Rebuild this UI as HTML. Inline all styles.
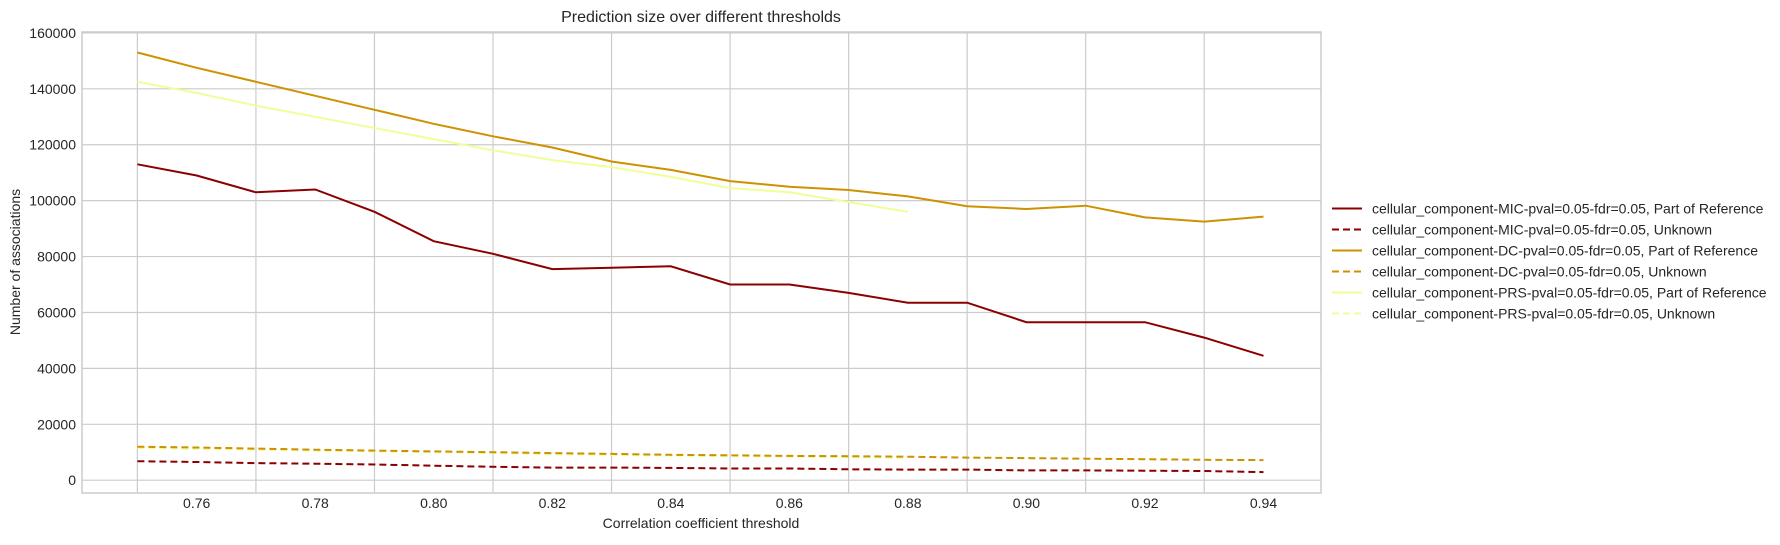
<!DOCTYPE html>
<html><head><meta charset="utf-8"><style>
body{margin:0;background:#fff;}
svg text{font-family:"Liberation Sans",sans-serif;fill:#262626;}
</style></head><body>
<svg id="chart" width="1780" height="540" xmlns="http://www.w3.org/2000/svg">
<rect width="1780" height="540" fill="#fff"/>
<g id="grid"></g><g id="series"></g><g id="axes"></g><g id="legend"></g>
<text x="701" y="22" font-size="16" text-anchor="middle">Prediction size over different thresholds</text>
<text x="701" y="528" font-size="14" text-anchor="middle">Correlation coefficient threshold</text>
<text transform="translate(20,262) rotate(-90)" font-size="14" text-anchor="middle">Number of associations</text>
</svg>
<script>
const thresholds=[0.75,0.76,0.77,0.78,0.79,0.80,0.81,0.82,0.83,0.84,0.85,0.86,0.87,0.88,0.89,0.90,0.91,0.92,0.93,0.94];
const micPart=[113000,109000,103000,104000,96000,85500,81000,75500,76000,76500,70000,70000,67000,63500,63500,56500,56500,56500,51000,44500];
const micUnknown=[6800,6500,6100,5900,5600,5200,4800,4500,4500,4400,4200,4200,3900,3800,3800,3500,3500,3400,3300,2900];
const dcPart=[153000,147500,142500,137500,132500,127500,123000,119000,114000,111000,107000,105000,103800,101500,98000,97000,98200,94000,92500,94300];
const dcUnknown=[12000,11700,11300,10900,10600,10300,10000,9700,9400,9100,8900,8700,8600,8400,8100,7900,7700,7500,7300,7200];
const prsPart=[142500,138500,134000,130000,126000,122000,118000,114500,112000,108500,104500,103000,99500,96000];
const prsUnknown=[11500,11200,10900,10600,10300,10000,9700,9300,9000,8800,8600,8400,8200,8000];
const yTicks=[0,20000,40000,60000,80000,100000,120000,140000,160000];
const xTickLabels=["0.76","0.78","0.80","0.82","0.84","0.86","0.88","0.90","0.92","0.94"];
const legendLabels=["cellular_component-MIC-pval=0.05-fdr=0.05, Part of Reference","cellular_component-MIC-pval=0.05-fdr=0.05, Unknown","cellular_component-DC-pval=0.05-fdr=0.05, Part of Reference","cellular_component-DC-pval=0.05-fdr=0.05, Unknown","cellular_component-PRS-pval=0.05-fdr=0.05, Part of Reference","cellular_component-PRS-pval=0.05-fdr=0.05, Unknown"];

const NS='http://www.w3.org/2000/svg';
const L=82,R=1321,T=32,B=493;
const xs=v=>137.4+(v-0.75)/0.19*(1263.5-137.4);
const ys=v=>480.2-v/160000*(480.2-32.9);
function mk(tag,attrs,parent){const e=document.createElementNS(NS,tag);for(const k in attrs)e.setAttribute(k,attrs[k]);parent.appendChild(e);return e;}
const grid=document.getElementById('grid'),axes=document.getElementById('axes'),ser=document.getElementById('series'),leg=document.getElementById('legend');
for(let i=0;i<10;i++){const x=xs(0.75+0.02*i);const g=mk('line',{x1:x,x2:x,y1:T,y2:B,stroke:'#cccccc','stroke-width':1.2},grid);

}
yTicks.forEach(v=>{const y=ys(v);const g=mk('line',{x1:L,x2:R,y1:y,y2:y,stroke:'#cccccc','stroke-width':1.2},grid);


const t=mk('text',{x:L-6,y:y+5,'font-size':14,'text-anchor':'end'},axes);t.textContent=v;

});
xTickLabels.forEach(s=>{const t=mk('text',{x:xs(parseFloat(s)),y:508,'font-size':14,'text-anchor':'middle'},axes);t.textContent=s;

});
const fr=mk('rect',{x:L,y:T,width:R-L,height:B-T,fill:'none',stroke:'#cccccc','stroke-width':1.5},axes);


const seriesDefs=[[micPart,'#8b0000',false,'mic-part'],[micUnknown,'#8b0000',true,'mic-unknown'],[dcPart,'#cc9200',false,'dc-part'],[dcUnknown,'#cc9200',true,'dc-unknown'],[prsPart,'#eeff99',false,'prs-part'],[prsUnknown,'#eeff99',true,'prs-unknown']];
const order=[4,5,2,3,0,1];
order.forEach(i=>{const [d,c,dash,n]=seriesDefs[i];const pts=d.map((v,j)=>xs(thresholds[j]).toFixed(1)+','+ys(v).toFixed(1)).join(' ');
const p=mk('polyline',{points:pts,fill:'none',stroke:c,'stroke-width':2,'stroke-dasharray':dash?'7,4':'none'},ser);

});
seriesDefs.forEach(([d,c,dash,n],i)=>{const y=208.5+i*21;
const g=mk('g',{},leg);


mk('line',{x1:1332,x2:1362,y1:y,y2:y,stroke:c,'stroke-width':2,'stroke-dasharray':dash?'7,4':'none'},g);
const t=mk('text',{x:1372,y:y+5,'font-size':14},g);t.textContent=legendLabels[i];});
</script>
</body></html>
